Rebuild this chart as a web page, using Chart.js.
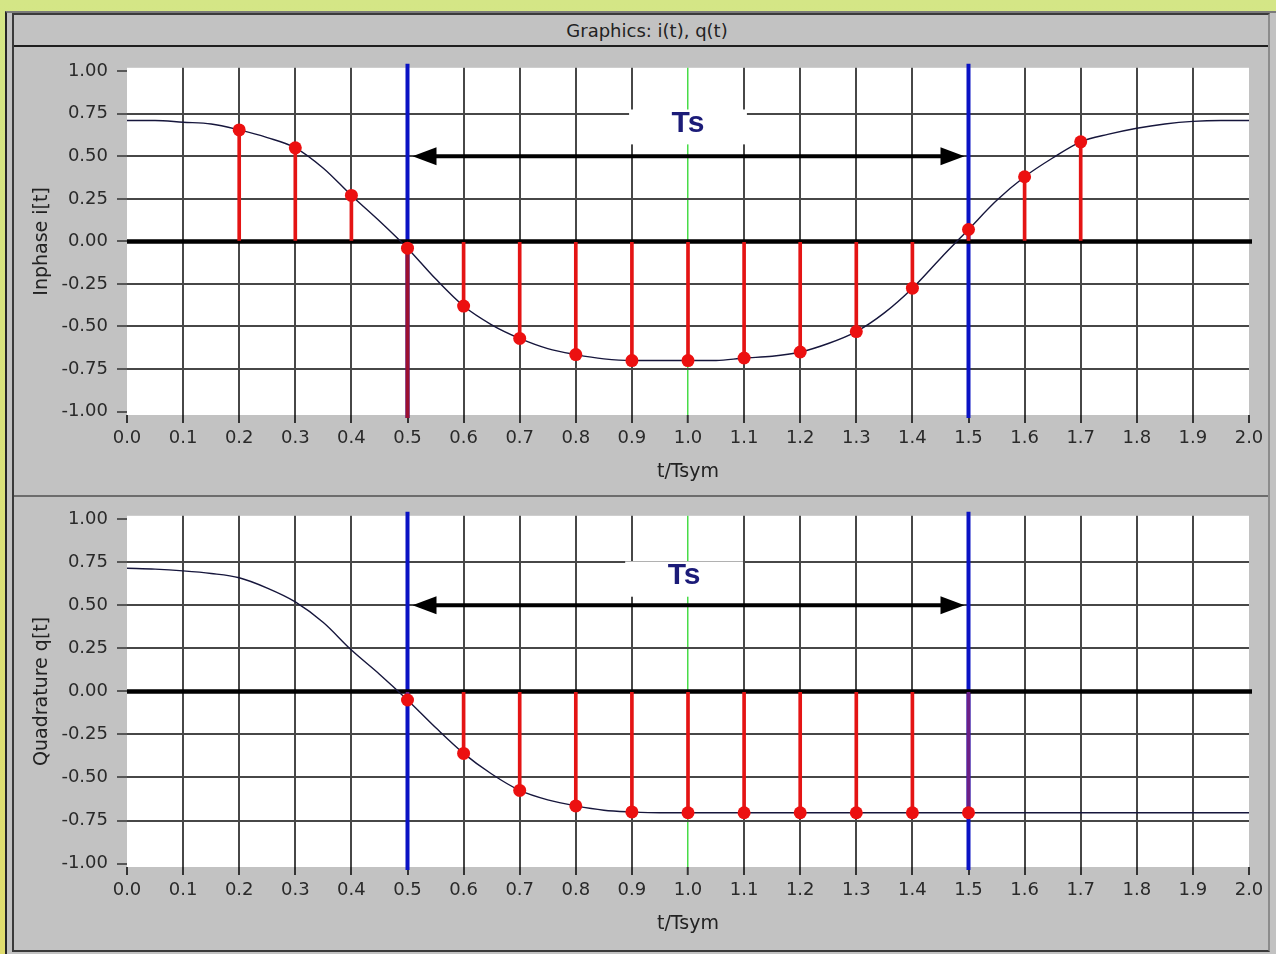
<!DOCTYPE html>
<html lang="en">
<head>
<meta charset="utf-8">
<title>Graphics: i(t), q(t)</title>
<style>
  body { margin: 0; width: 1276px; height: 954px; overflow: hidden; position: relative;
         background: linear-gradient(to bottom, #d4e686, #e0dd6e); }
  #win { position: absolute; left: 5px; top: 11px; width: 1271px; height: 943px; box-sizing: border-box;
         background: #c2c2c2; border-left: 2px solid #262626; border-top: 2px solid #7a7a7a; }
  #frame { position: absolute; left: 12px; top: 13px; width: 1258px; height: 939px; box-sizing: border-box;
           border: 2px solid #3a3a3a; border-right-color: #8c8c8c; }
  #titlebar { position: absolute; left: 14px; top: 15px; width: 1266px; height: 31px;
              font: 18px "DejaVu Sans", sans-serif; color: #222; text-align: center; line-height: 31px; }
  #titleline { position: absolute; left: 14px; top: 45px; width: 1254px; height: 2px; background: #1e1e1e; }
  #sep { position: absolute; left: 14px; top: 495px; width: 1254px; height: 2px; background: #6c6c6c; }
  canvas { position: absolute; left: 0; }
  #chartI { top: 48px; }
  #chartQ { top: 496px; }
</style>
</head>
<body>
  <div id="win"></div>
  <div id="frame"></div>
  <div id="titlebar">Graphics: i(t), q(t)</div>
  <div id="titleline"></div>
  <div id="sep"></div>
  <canvas id="chartI" width="1276" height="446"></canvas>
  <canvas id="chartQ" width="1276" height="454"></canvas>

<script src="https://cdn.jsdelivr.net/npm/chart.js"></script>
<script>

const curveT = [0, 0.05, 0.1, 0.15, 0.2, 0.25, 0.3, 0.35, 0.4, 0.45, 0.5, 0.55, 0.6, 0.65, 0.7, 0.75, 0.8, 0.85, 0.9, 0.95,
                1.0, 1.05, 1.1, 1.15, 1.2, 1.25, 1.3, 1.35, 1.4, 1.45, 1.5, 1.55, 1.6, 1.65, 1.7, 1.75, 1.8, 1.85, 1.9, 1.95, 2.0];
const curveI = [0.71, 0.71, 0.70, 0.69, 0.655, 0.61, 0.55, 0.43, 0.27, 0.12, -0.04, -0.22, -0.38, -0.49, -0.57, -0.63, -0.665, -0.69, -0.70, -0.70,
                -0.70, -0.70, -0.685, -0.675, -0.65, -0.60, -0.53, -0.42, -0.275, -0.10, 0.07, 0.24, 0.38, 0.49, 0.585, 0.63, 0.665, 0.69, 0.705, 0.71, 0.71];
const curveQ = [0.715, 0.71, 0.70, 0.685, 0.66, 0.60, 0.52, 0.40, 0.24, 0.10, -0.05, -0.21, -0.36, -0.48, -0.575, -0.63, -0.665, -0.69, -0.70, -0.705,
                -0.705, -0.705, -0.705, -0.705, -0.705, -0.705, -0.705, -0.705, -0.705, -0.705, -0.705, -0.705, -0.705, -0.705, -0.705, -0.705, -0.705, -0.705, -0.705, -0.705, -0.705];

// sampled values (stems)
const sampleTI = [0.2, 0.3, 0.4, 0.5, 0.6, 0.7, 0.8, 0.9, 1.0, 1.1, 1.2, 1.3, 1.4, 1.5, 1.6, 1.7];
const sampleI  = [0.655, 0.55, 0.27, -0.04, -0.38, -0.57, -0.665, -0.70, -0.70, -0.685, -0.65, -0.53, -0.275, 0.07, 0.38, 0.585];
const sampleTQ = [0.5, 0.6, 0.7, 0.8, 0.9, 1.0, 1.1, 1.2, 1.3, 1.4, 1.5];
const sampleQ  = [-0.05, -0.36, -0.575, -0.665, -0.70, -0.705, -0.705, -0.705, -0.705, -0.705, -0.705];

const xTicks = [0, 0.1, 0.2, 0.3, 0.4, 0.5, 0.6, 0.7, 0.8, 0.9, 1.0, 1.1, 1.2, 1.3, 1.4, 1.5, 1.6, 1.7, 1.8, 1.9, 2.0];
const yTicks = [-1, -0.75, -0.5, -0.25, 0, 0.25, 0.5, 0.75, 1];

const markerT = [0.5, 1.5];   // symbol boundaries
const centerT = 1.0;          // symbol centre (green line)
const arrowLevel = 0.5;
const spanText = 'Ts';

Chart.defaults.font.family = '"DejaVu Sans", sans-serif';
Chart.defaults.color = '#2a2a2a';

const overlay = {
    id: 'overlay',
    beforeDraw(chart) {
        const {ctx, chartArea: a} = chart;
        ctx.save();
        ctx.fillStyle = '#ffffff';
        ctx.fillRect(a.left, a.top, a.right - a.left, a.bottom - a.top);
        ctx.restore();
    },
    beforeDatasetsDraw(chart, args, o) {
        const {ctx, chartArea: a, scales: {x, y}} = chart;
        ctx.save();
        // white patch behind the Ts label
        const bx0 = x.getPixelForValue(o.label.t - 0.105), bx1 = x.getPixelForValue(o.label.t + 0.105);
        const by0 = y.getPixelForValue(o.label.v + 0.085), by1 = y.getPixelForValue(o.label.v - 0.12);
        ctx.fillStyle = '#ffffff';
        ctx.fillRect(bx0, by0, bx1 - bx0, by1 - by0);

        const y0 = y.getPixelForValue(0);
        markerT.forEach(function (t, i) {
            const px = x.getPixelForValue(t);
            ctx.lineWidth = 4;
            ctx.strokeStyle = '#0a12c4';
            ctx.beginPath(); ctx.moveTo(px, a.top - 4); ctx.lineTo(px, a.bottom + 3); ctx.stroke();
            if (o.markerBelow[i]) {
                ctx.strokeStyle = o.markerBelow[i];
                ctx.beginPath(); ctx.moveTo(px, y0); ctx.lineTo(px, a.bottom + 3); ctx.stroke();
            }
        });

        // zero line
        ctx.strokeStyle = '#000000';
        ctx.lineWidth = 4.5;
        ctx.beginPath(); ctx.moveTo(a.left, y0); ctx.lineTo(a.right + 3, y0); ctx.stroke();
        ctx.restore();
    },
    afterDatasetsDraw(chart, args, o) {
        const {ctx, scales: {x, y}} = chart;
        ctx.save();
        const ay = y.getPixelForValue(arrowLevel);
        const xa = x.getPixelForValue(markerT[0]) + 5;
        const xb = x.getPixelForValue(markerT[1]) - 4;
        ctx.strokeStyle = '#000000';
        ctx.fillStyle = '#000000';
        ctx.lineWidth = 4;
        ctx.beginPath(); ctx.moveTo(xa + 18, ay); ctx.lineTo(xb - 18, ay); ctx.stroke();
        ctx.beginPath(); ctx.moveTo(xa, ay); ctx.lineTo(xa + 24, ay - 9); ctx.lineTo(xa + 24, ay + 9); ctx.closePath(); ctx.fill();
        ctx.beginPath(); ctx.moveTo(xb, ay); ctx.lineTo(xb - 24, ay - 9); ctx.lineTo(xb - 24, ay + 9); ctx.closePath(); ctx.fill();

        ctx.font = 'bold 30px "Liberation Sans", Arial, sans-serif';
        ctx.fillStyle = '#1b1b78';
        ctx.textAlign = 'center';
        ctx.textBaseline = 'middle';
        ctx.fillText(spanText, x.getPixelForValue(o.label.t), y.getPixelForValue(o.label.v));
        ctx.restore();
    }
};

function gridX(c) {
    if (!c.tick) return 'rgba(0,0,0,0)';
    const v = c.tick.value;
    if (v === centerT) return '#48dc48';
    if (v === xTicks[0] || v === xTicks[xTicks.length - 1]) return 'rgba(0,0,0,0)';
    return '#474747';
}

function gridY(c) {
    if (!c.tick) return 'rgba(0,0,0,0)';
    const v = c.tick.value;
    if (v === 0 || v === yTicks[0] || v === yTicks[yTicks.length - 1]) return 'rgba(0,0,0,0)';
    return '#474747';
}

function makeChart(id, yTitle, curveY, sT, sY, padding, extra) {
    return new Chart(document.getElementById(id), {
        type: 'scatter',
        data: {
            datasets: [
                {
                    type: 'scatter',
                    data: sT.map((t, i) => ({x: t, y: sY[i]})),
                    backgroundColor: '#ec1010',
                    pointRadius: 6.5,
                    pointBorderWidth: 0,
                    order: 0
                },
                {
                    type: 'bar',
                    data: sT.map((t, i) => ({x: t, y: [0, sY[i]]})),
                    backgroundColor: c => (extra.stemOnMarker && c.raw && markerT.includes(c.raw.x)) ? extra.stemOnMarker : '#e41414',
                    barThickness: 3,
                    order: 1
                },
                {
                    type: 'line',
                    data: curveT.map((t, i) => ({x: t, y: curveY[i]})),
                    borderColor: '#16163c',
                    borderWidth: 1.4,
                    pointRadius: 0,
                    cubicInterpolationMode: 'monotone',
                    order: 2
                }
            ]
        },
        options: {
            responsive: false,
            animation: false,
            layout: {padding: padding},
            plugins: {
                legend: {display: false},
                tooltip: {enabled: false},
                overlay: extra
            },
            scales: {
                x: {
                    type: 'linear', min: 0, max: 2, offset: false,
                    afterBuildTicks: s => { s.ticks = xTicks.map(v => ({value: v})); },
                    afterFit: s => { s.height = 79; },
                    ticks: {callback: v => v.toFixed(1), font: {size: 18}, color: '#2a2a2a', padding: 5, autoSkip: false, maxRotation: 0},
                    grid: {offset: false, color: gridX, lineWidth: c => (c.tick && c.tick.value === centerT) ? 1.5 : 2,
                           tickColor: '#333333', tickLength: 8, tickWidth: 2},
                    border: {display: false},
                    title: {display: true, text: 't/Tsym', font: {size: 19}, color: '#222222', padding: {top: 0, bottom: 11}}
                },
                y: {
                    type: 'linear', min: -1.02, max: 1.02,
                    afterBuildTicks: s => { s.ticks = yTicks.map(v => ({value: v})); },
                    afterFit: s => { s.width = 127; },
                    ticks: {callback: v => v.toFixed(2), font: {size: 18}, color: '#2a2a2a', padding: 9},
                    grid: {offset: false, color: gridY, lineWidth: 2, tickColor: '#333333', tickLength: 10, tickWidth: 1.5},
                    border: {display: false},
                    title: {display: true, text: yTitle, font: {size: 19}, color: '#222222', padding: {top: 31, bottom: 0}}
                }
            }
        },
        plugins: [overlay]
    });
}

makeChart('chartI', 'Inphase i[t]', curveI, sampleTI, sampleI,
    {top: 15, right: 27, bottom: 0, left: 0},
    {label: {t: 1.0, v: 0.69}, markerBelow: ['#9c1030', null], stemOnMarker: null});

makeChart('chartQ', 'Quadrature q[t]', curveQ, sampleTQ, sampleQ,
    {top: 19, right: 27, bottom: 4, left: 0},
    {label: {t: 0.993, v: 0.67}, markerBelow: [null, null], stemOnMarker: '#6c1f86'});

</script>
</body>
</html>
